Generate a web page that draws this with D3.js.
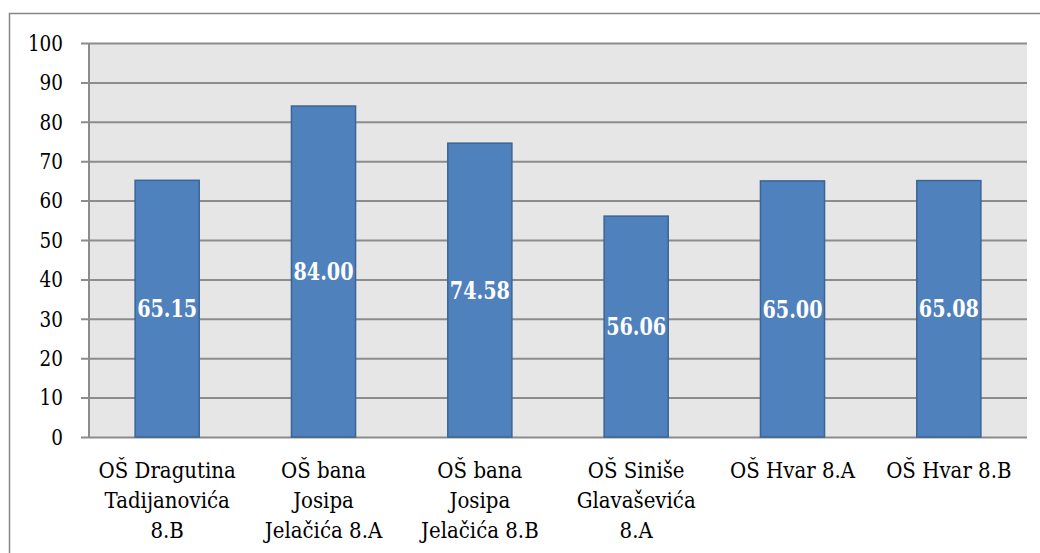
<!DOCTYPE html>
<meta charset="utf-8">
<script src="https://d3js.org/d3.v7.min.js"></script>
<style>
    body { margin: 0; background: #fff; }
</style>
<div id="chart"></div>
<script>
    // category names, "\n" marks where the label wraps
    const schools = [
        "OŠ Dragutina\nTadijanovića\n8.B",
        "OŠ bana\nJosipa\nJelačića 8.A",
        "OŠ bana\nJosipa\nJelačića 8.B",
        "OŠ Siniše\nGlavaševića\n8.A",
        "OŠ Hvar 8.A",
        "OŠ Hvar 8.B"
    ];
    const scores = [65.15, 84.00, 74.58, 56.06, 65.00, 65.08];
    const yTicks = [0, 10, 20, 30, 40, 50, 60, 70, 80, 90, 100];

    // only serif face that resolves here; squeezed a bit to look like Times
    const FONT = "DejaVu Serif";

    const W = 1040, H = 553;
    const margin = {top: 43, right: 13, bottom: 116, left: 89};
    const width = W - margin.left - margin.right,
          height = H - margin.top - margin.bottom;

    const root = d3.select("#chart").append("svg")
        .attr("width", W)
        .attr("height", H);

    // outer chart border (runs off the right and bottom edges)
    root.append("rect")
        .attr("x", 9.5).attr("y", 13.5)
        .attr("width", W + 20).attr("height", H + 20)
        .attr("fill", "none")
        .attr("stroke", "#868686")
        .attr("stroke-width", 1.5);

    const svg = root.append("g")
        .attr("transform", `translate(${margin.left},${margin.top})`);

    const x = d3.scaleBand()
        .domain(d3.range(schools.length))
        .range([0, width])
        .paddingInner(0.59)
        .paddingOuter(0.295);

    const y = d3.scaleLinear()
        .domain([0, 100])
        .range([height, 0]);

    // plot background
    svg.append("rect")
        .attr("width", width)
        .attr("height", height)
        .attr("fill", "#e6e6e6");

    // gridlines + y axis
    const yAxis = svg.append("g")
        .call(d3.axisLeft(y).tickValues(yTicks).tickSize(-width).tickSizeOuter(0))
    yAxis.attr("font-family", FONT).attr("font-size", 23);
    yAxis.select(".domain").remove();
    yAxis.selectAll(".tick line")
        .attr("x1", -8)
        .attr("stroke", "#8c8c8c")
        .attr("stroke-width", 2);
    yAxis.selectAll(".tick text")
        .attr("fill", "#000")
        .attr("transform", "scale(0.8,1)")
        .attr("x", -26 / 0.8);

    // vertical axis line
    svg.append("line")
        .attr("x1", 0).attr("x2", 0)
        .attr("y1", 0).attr("y2", height)
        .attr("stroke", "#8c8c8c")
        .attr("stroke-width", 2);

    // bars
    svg.selectAll(".bar")
        .data(scores)
        .join("rect")
        .attr("class", "bar")
        .attr("x", (d, i) => x(i))
        .attr("y", d => y(d))
        .attr("width", x.bandwidth())
        .attr("height", d => height - y(d))
        .attr("fill", "#4f81bd")
        .attr("stroke", "#3a6594")
        .attr("stroke-width", 1.5);

    // value labels in the middle of each bar
    svg.selectAll(".val")
        .data(scores)
        .join("text")
        .attr("class", "val")
        .attr("transform", (d, i) => `translate(${x(i) + x.bandwidth() / 2},${(y(d) + height) / 2}) scale(0.8,1)`)
        .attr("dy", "0.36em")
        .attr("text-anchor", "middle")
        .attr("fill", "#fff")
        .attr("font-family", FONT)
        .attr("font-size", 24)
        .attr("font-weight", "bold")
        .text(d => d.toFixed(2));

    // category labels
    const cats = svg.selectAll(".cat")
        .data(schools)
        .join("text")
        .attr("class", "cat")
        .attr("text-anchor", "middle")
        .attr("fill", "#000")
        .attr("font-family", FONT)
        .attr("font-size", 23)
        .attr("transform", (d, i) => `translate(${x(i) + x.bandwidth() / 2},${height + 41}) scale(0.86,1)`);
    cats.selectAll("tspan")
        .data(d => d.split("\n"))
        .join("tspan")
        .attr("x", 0)
        .attr("y", (d, i) => i * 30)
        .text(d => d);
</script>
